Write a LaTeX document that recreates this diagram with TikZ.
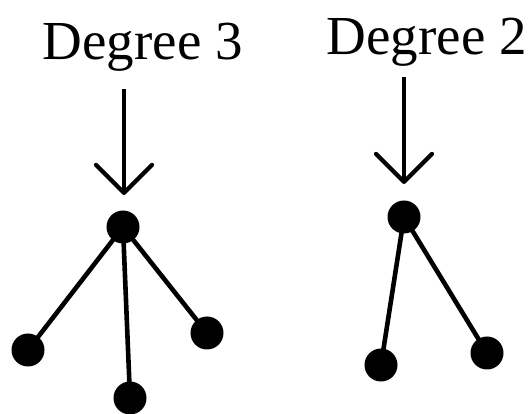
\documentclass[tikz,border=0pt]{standalone}
\usepackage{fontspec}
\setmainfont{Liberation Serif}
\usetikzlibrary{arrows.meta}
\begin{document}
\begin{tikzpicture}[x=1pt,y=-1pt,
  dot/.style={circle,fill=black,inner sep=0pt,minimum size=33pt},
  edge/.style={line width=4.6pt},
  pointer/.style={line width=4.2pt,-{Straight Barb[length=28pt,width=56pt,line cap=round,line join=round]}},
  lab/.style={anchor=base,inner sep=0pt,font=\fontsize{55}{60}\selectfont}]
\useasboundingbox (0,0) rectangle (531,414);
% left
\node[lab] (t3) at (142.7,60) {Degree 3};
\coordinate (a3s) at (124,89);
\coordinate (a3e) at (124,195);
\draw[pointer] (a3s) -- (a3e);
\node[dot] (c3) at (123,227) {};
\node[dot] (l3) at (28,350) {};
\node[dot] (m3) at (130,398) {};
\node[dot] (r3) at (207,333) {};
\draw[edge] (c3.center) -- (l3.center);
\draw[edge] (c3.center) -- (m3.center);
\draw[edge] (c3.center) -- (r3.center);
% right
\node[lab] (t2) at (426.7,55) {Degree 2};
\coordinate (a2s) at (404,77);
\coordinate (a2e) at (404,184);
\draw[pointer] (a2s) -- (a2e);
\node[dot] (c2) at (404,217) {};
\node[dot] (l2) at (381,365) {};
\node[dot] (r2) at (487,353) {};
\draw[edge] (c2.center) -- (l2.center);
\draw[edge] (c2.center) -- (r2.center);
\end{tikzpicture}
\end{document}
